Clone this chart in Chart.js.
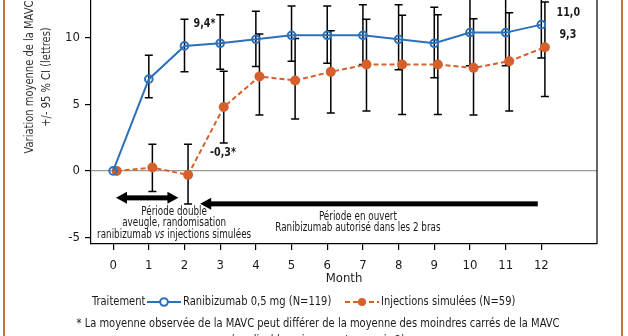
<!DOCTYPE html>
<html lang="fr">
<head>
<meta charset="utf-8">
<script src="https://cdn.jsdelivr.net/npm/chart.js@4.4.1/dist/chart.umd.min.js"></script>
<style>
  html, body { margin: 0; padding: 0; background: #fff; overflow: hidden; }
  #wrap { position: relative; width: 628px; height: 336px; overflow: hidden; background: #fff; }
  #chart { position: absolute; left: 0; top: -95px; }
  .edge { position: absolute; top: 0; width: 2px; height: 336px; background: #c4703f; }
</style>
</head>
<body>
<div id="wrap">
  <canvas id="chart" width="628" height="450"></canvas>
  <div class="edge" style="left:3px"></div>
  <div class="edge" style="left:621px"></div>
</div>
<script>
const months = [0, 1, 2, 3, 4, 5, 6, 7, 8, 9, 10, 11, 12]

// Ranibizumab 0,5 mg : moyenne et IC 95 %
const raniMean = [0, 6.9, 9.4, 9.6, 9.9, 10.2, 10.2, 10.2, 9.9, 9.6, 10.4, 10.4, 11.0]
const raniLow = [null, 5.5, 7.45, 7.65, 7.85, 8.25, 8.1, 8.0, 7.6, 7.0, 7.9, 7.9, 8.5]
const raniHigh = [null, 8.7, 11.4, 11.75, 12.0, 12.4, 12.4, 12.5, 12.5, 12.3, 13.1, 13.1, 13.4]

// Injections simulées : moyenne et IC 95 %
const shamMean = [0, 0.25, -0.3, 4.8, 7.1, 6.8, 7.45, 8.0, 8.0, 8.0, 7.75, 8.25, 9.3]
const shamLow = [null, -1.55, -2.5, 2.1, 4.2, 3.9, 4.35, 4.5, 4.25, 4.25, 4.2, 4.5, 5.6]
const shamHigh = [null, 2.0, 2.0, 7.5, 10.3, 9.95, 10.55, 11.4, 11.7, 11.75, 11.45, 11.9, 12.7]

const yTicks = [-5, 0, 5, 10, 15, 20]

const blue = '#2c70ba'
const orange = '#d6602c'
const ink = '#1a1a1a'
const fontFamily = '"DejaVu Sans Condensed", "Liberation Sans", sans-serif'
const squeeze = 0.85 // the lettering is narrower than the installed fonts
const shamShift = 0.1 // the sham series sits a little to the right of each month

const series = [
  {label: 'Ranibizumab 0,5 mg (N=119)', mean: raniMean, low: raniLow, high: raniHigh, shift: 0, color: blue},
  {label: 'Injections simulées (N=59)', mean: shamMean, low: shamLow, high: shamHigh, shift: shamShift, color: orange}
]

// valeurs étiquetées : [série, mois, dx, dy, astérisque]
const valueLabels = [
  [0, 2, 20, -22, true],
  [1, 2, 35, -22, true],
  [0, 12, 27, -12, false],
  [1, 12, 23, -12, false]
]

function fmt(v) {
  return v.toFixed(1).replace('.', ',')
}

// draws condensed text; align is 'left' or 'center'
function label(c, text, x, y, font, align) {
  c.save()
  c.font = font
  c.textAlign = 'left'
  c.textBaseline = 'middle'
  const w = c.measureText(text).width * squeeze
  const left = align === 'center' ? x - w / 2 : x
  c.translate(left, y)
  c.scale(squeeze, 1)
  c.fillText(text, 0, 0)
  c.restore()
  return w
}

function arrow(c, x1, x2, y, left, right) {
  const h = 6, len = 11
  c.fillStyle = '#000'
  c.fillRect(x1 + (left ? len - 1 : 0), y - 2.5, x2 - x1 - (left ? len - 1 : 0) - (right ? len - 1 : 0), 5)
  c.beginPath()
  if (left) {
    c.moveTo(x1, y); c.lineTo(x1 + len, y - h); c.lineTo(x1 + len, y + h); c.closePath()
  }
  if (right) {
    c.moveTo(x2, y); c.lineTo(x2 - len, y - h); c.lineTo(x2 - len, y + h); c.closePath()
  }
  c.fill()
}

const extras = {
  id: 'extras',
  beforeDatasetsDraw(chart) {
    const c = chart.ctx
    const xs = chart.scales.x, ys = chart.scales.y
    c.save()
    c.strokeStyle = '#000'
    c.lineWidth = 1.5
    series.forEach(s => {
      months.forEach((m, i) => {
        if (s.low[i] == null) return
        const x = xs.getPixelForValue(m + s.shift)
        const y1 = ys.getPixelForValue(s.low[i])
        const y2 = ys.getPixelForValue(s.high[i])
        c.beginPath()
        c.moveTo(x, y1); c.lineTo(x, y2)
        c.moveTo(x - 4, y1); c.lineTo(x + 4, y1)
        c.moveTo(x - 4, y2); c.lineTo(x + 4, y2)
        c.stroke()
      })
    })
    c.restore()
  },
  afterDraw(chart) {
    const c = chart.ctx
    const xs = chart.scales.x, ys = chart.scales.y
    const area = chart.chartArea
    c.save()

    // cadre droit
    c.strokeStyle = '#000'
    c.lineWidth = 1.2
    c.beginPath()
    c.moveTo(area.right, area.top); c.lineTo(area.right, area.bottom)
    c.stroke()

    // titre de l'axe Y, deux lignes tournées
    c.fillStyle = '#333'
    const titleY = 172
    ;[['Variation moyenne de la MAVC', 30], ['+/- 95 % CI (lettres)', 47]].forEach(([t, x]) => {
      c.save()
      c.translate(x, titleY)
      c.rotate(-Math.PI / 2)
      label(c, t, 0, 0, '13px ' + fontFamily, 'center')
      c.restore()
    })

    // valeurs annotées
    c.fillStyle = ink
    valueLabels.forEach(([si, m, dx, dy, star]) => {
      const s = series[si]
      const i = months.indexOf(m)
      const x = xs.getPixelForValue(m + s.shift) + dx
      const y = ys.getPixelForValue(s.mean[i]) + dy
      label(c, fmt(s.mean[i]) + (star ? '*' : ''), x, y, 'bold 12.5px ' + fontFamily, 'center')
    })

    // périodes de l'étude
    arrow(c, xs.getPixelForValue(0.08), xs.getPixelForValue(1.83), ys.getPixelForValue(-2.03), true, true)
    arrow(c, xs.getPixelForValue(2.44), xs.getPixelForValue(11.9), ys.getPixelForValue(-2.48), true, false)

    const small = '11.5px ' + fontFamily
    c.fillStyle = ink
    const lx = xs.getPixelForValue(1.71)
    const ly = ys.getPixelForValue(-3.08)
    label(c, 'Période double', lx, ly, small, 'center')
    label(c, 'aveugle, randomisation', lx, ly + 11.5, small, 'center')
    c.font = small
    const wPre = c.measureText('ranibizumab ').width * squeeze
    const wPost = c.measureText(' injections simulées').width * squeeze
    c.font = 'italic ' + small
    const wMid = c.measureText('vs').width * squeeze
    let x0 = lx - (wPre + wMid + wPost) / 2
    label(c, 'ranibizumab ', x0, ly + 23, small, 'left')
    label(c, 'vs', x0 + wPre, ly + 23, 'italic ' + small, 'left')
    label(c, ' injections simulées', x0 + wPre + wMid, ly + 23, small, 'left')

    const rx = xs.getPixelForValue(6.86)
    const ry = ys.getPixelForValue(-3.45)
    label(c, 'Période en ouvert', rx, ry, small, 'center')
    label(c, 'Ranibizumab autorisé dans les 2 bras', rx, ry + 11.5, small, 'center')

    // légende
    const legY = area.bottom + 58
    const legFont = '13px ' + fontFamily
    c.fillStyle = ink
    label(c, 'Traitement', 92, legY, legFont, 'left')

    c.lineWidth = 2
    c.strokeStyle = blue
    c.beginPath(); c.moveTo(147, legY); c.lineTo(181, legY); c.stroke()
    c.beginPath(); c.arc(164, legY, 3.8, 0, Math.PI * 2)
    c.fillStyle = '#fff'; c.fill(); c.stroke()
    c.fillStyle = ink
    label(c, series[0].label, 183, legY, legFont, 'left')

    c.strokeStyle = orange
    c.setLineDash([5, 3])
    c.beginPath(); c.moveTo(345, legY); c.lineTo(379, legY); c.stroke()
    c.setLineDash([])
    c.fillStyle = orange
    c.beginPath(); c.arc(362, legY, 4, 0, Math.PI * 2); c.fill()
    c.fillStyle = ink
    label(c, series[1].label, 381, legY, legFont, 'left')

    // note
    label(c, '* La moyenne observée de la MAVC peut différer de la moyenne des moindres carrés de la MAVC', 318, area.bottom + 80, legFont, 'center')
    label(c, '(applicable uniquement au mois 2)', 318, area.bottom + 97, legFont, 'center')

    c.restore()
  }
}

// no extra room for the end labels: the frame is fixed
function noScalePadding(scale) {
  scale.paddingTop = 0
  scale.paddingBottom = 0
  scale.paddingLeft = 0
  scale.paddingRight = 0
}

new Chart(document.getElementById('chart'), {
  type: 'line',
  data: {
    datasets: series.map((s, k) => ({
      label: s.label,
      data: months.map((m, i) => ({x: m + s.shift, y: s.mean[i]})),
      borderColor: s.color,
      borderWidth: 2,
      borderDash: k === 1 ? [5, 3] : [],
      pointRadius: k === 1 ? 4 : 3.8,
      pointBorderWidth: 2,
      pointBorderColor: s.color,
      pointBackgroundColor: k === 1 ? s.color : 'rgba(255,255,255,0)',
      tension: 0
    }))
  },
  options: {
    responsive: false,
    animation: false,
    devicePixelRatio: 1,
    layout: {autoPadding: false, padding: {left: 0, right: 31, top: 0, bottom: 69}},
    plugins: {legend: {display: false}, tooltip: {enabled: false}},
    scales: {
      x: {
        type: 'linear',
        min: -0.62,
        max: 13.56,
        afterBuildTicks: scale => { scale.ticks = months.map(v => ({value: v})) },
        afterFit: scale => { scale.height = 42; noScalePadding(scale) },
        grid: {drawOnChartArea: false, drawTicks: true, tickLength: 6, color: '#000', lineWidth: 1.2},
        border: {display: true, color: '#000', width: 1.2},
        ticks: {color: ink, font: {family: fontFamily, size: 13}, padding: 8, maxRotation: 0},
        title: {display: true, text: 'Month', color: ink, font: {family: fontFamily, size: 13}, padding: 0}
      },
      y: {
        type: 'linear',
        min: -5.5,
        max: 20,
        afterBuildTicks: scale => { scale.ticks = yTicks.map(v => ({value: v})) },
        afterFit: scale => { scale.width = 91; noScalePadding(scale) },
        grid: {
          drawOnChartArea: true,
          drawTicks: true,
          tickLength: 6,
          tickColor: '#000',
          color: ctx => (ctx.tick && ctx.tick.value === 0 ? '#9a9a9a' : 'rgba(0,0,0,0)'),
          lineWidth: 1.2
        },
        border: {display: true, color: '#000', width: 1.2},
        ticks: {color: ink, font: {family: fontFamily, size: 13}, padding: 5}
      }
    }
  },
  plugins: [extras]
})
</script>
</body>
</html>
